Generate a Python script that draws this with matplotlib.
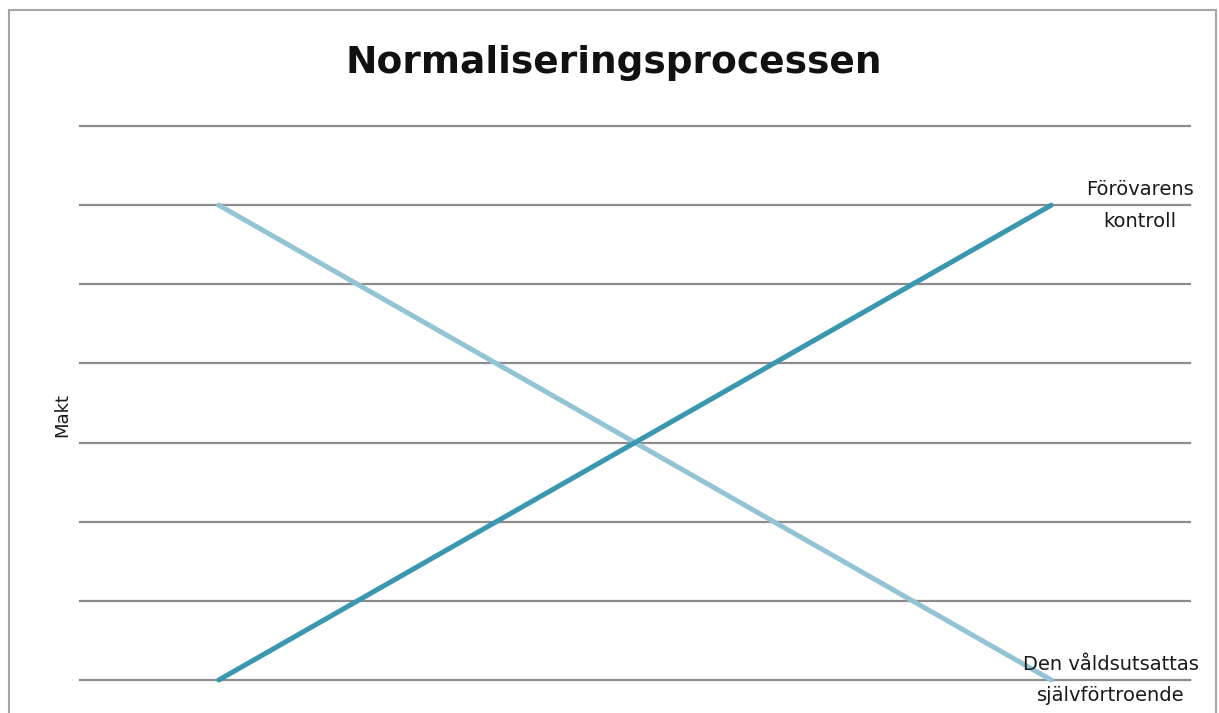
import matplotlib.pyplot as plt
from matplotlib.patches import Rectangle

categories = [1, 2, 3, 4]
forovarens_kontroll = [0, 2, 4, 6]
sjalvfortroende = [6, 4, 2, 0]
y_ticks = [0, 1, 2, 3, 4, 5, 6, 7]

W, H = 1219, 713
fig = plt.figure(figsize=(W / 100, H / 100), dpi=100)

# outer chart border
fig.patches.append(Rectangle((9 / W, -0.01), (1216 - 9) / W, (H - 10) / H + 0.01,
                             transform=fig.transFigure, fill=False,
                             edgecolor='#a6a6a6', linewidth=1.5))

ax = fig.add_axes([80 / W, (H - 680) / H, (1190 - 80) / W, (680 - 126) / H])
ax.set_xlim(0.5, 4.5)
ax.set_ylim(0, 7)

for y in y_ticks:
    ax.axhline(y, color='#8c8c8c', linewidth=1.6, zorder=1, clip_on=False)

ax.plot(categories, sjalvfortroende, color='#93c4d6', linewidth=3.6,
        solid_capstyle='round', zorder=3, clip_on=False)
ax.plot(categories, forovarens_kontroll, color='#3a97b0', linewidth=3.6,
        solid_capstyle='round', zorder=3, clip_on=False)

for s in ax.spines.values():
    s.set_visible(False)
ax.set_xticks([])
ax.set_yticks([])

ax.annotate('Förövarens\nkontroll', (categories[-1], forovarens_kontroll[-1]),
            xytext=(64, 0), textcoords='offset points', ha='center', va='center',
            fontsize=14, linespacing=1.85, color='#1a1a1a')
ax.annotate('Den våldsutsattas\nsjälvförtroende', (categories[-1], sjalvfortroende[-1]),
            xytext=(43, 0), textcoords='offset points', ha='center', va='center',
            fontsize=14, linespacing=1.85, color='#1a1a1a')

fig.text(62 / W, (H - 415) / H, 'Makt', rotation=90, ha='center', va='center',
         fontsize=13, color='#1a1a1a')
fig.text(614 / W, (H - 63) / H, 'Normaliseringsprocessen', ha='center', va='center',
         fontsize=27, fontweight='bold', color='#111111')

fig.savefig('out.png', dpi=100)
